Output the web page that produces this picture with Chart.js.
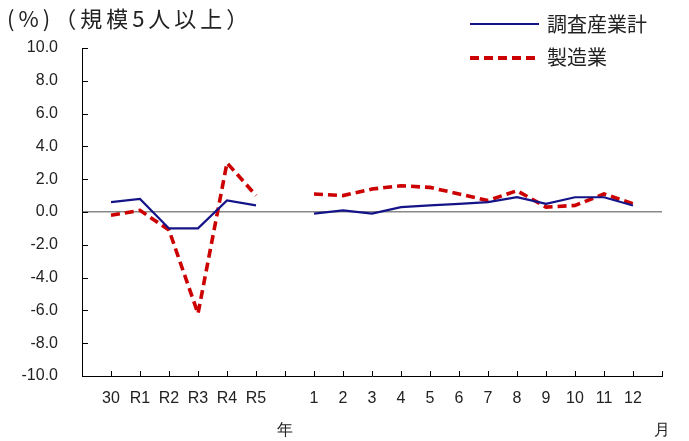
<!DOCTYPE html>
<html>
<head>
<meta charset="utf-8">
<script src="https://cdn.jsdelivr.net/npm/chart.js@4/dist/chart.umd.min.js"></script>
<style>
  html, body { margin: 0; padding: 0; background: #fff; }
  #wrap { position: relative; width: 689px; height: 441px; overflow: hidden; }
  #c { position: absolute; left: 0; top: 0; }
  .txt { position: absolute; font-family: "Noto Sans CJK JP", sans-serif; color: #222; white-space: nowrap; line-height: 1; }
  .key { position: absolute; }
</style>
</head>
<body>
<div id="wrap">
  <canvas id="c" width="689" height="441"></canvas>
  <div class="txt" style="left:7px; top:6px; font-size:22px; letter-spacing:4px;">(%)（規模5人以上）</div>
  <svg class="key" style="left:468px; top:14px;" width="74" height="54">
    <line x1="2" y1="10" x2="71" y2="10" stroke="#141488" stroke-width="2.2"/>
    <line x1="2" y1="44" x2="71" y2="44" stroke="#cc0000" stroke-width="4" stroke-dasharray="9,5"/>
  </svg>
  <div class="txt" style="left:547px; top:14px; font-size:20px;">調査産業計</div>
  <div class="txt" style="left:547px; top:47px; font-size:20px;">製造業</div>
</div>
<script>
// annual (fiscal year) and monthly periods
const yearLabels = ['30', 'R1', 'R2', 'R3', 'R4', 'R5'];
const monthLabels = ['1', '2', '3', '4', '5', '6', '7', '8', '9', '10', '11', '12'];
const yearUnit = '年';
const monthUnit = '月';

// 調査産業計 (all industries surveyed), %
const allYear = [0.6, 0.8, -1.0, -1.0, 0.7, 0.4];
const allMonth = [-0.1, 0.1, -0.1, 0.3, 0.4, 0.5, 0.6, 0.9, 0.5, 0.9, 0.9, 0.4];

// 製造業 (manufacturing), %
const mfgYear = [-0.2, 0.1, -1.1, -6.2, 3.0, 1.0];
const mfgMonth = [1.1, 1.0, 1.4, 1.6, 1.5, 1.1, 0.7, 1.3, 0.3, 0.4, 1.1, 0.5];

// y axis range
const yMin = -10, yMax = 10, yStep = 2;

// category axis: blank slot, years, unit slot, months, unit slot
const categories = [''].concat(yearLabels, [['', yearUnit]], monthLabels, [['', monthUnit]]);
const series = (yr, mo) => [null].concat(yr, [null], mo, [null]);

// short tick marks drawn inward from both axes
const innerTicks = {
  id: 'innerTicks',
  afterDraw(chart) {
    const { ctx, scales: { x, y }, chartArea } = chart;
    ctx.save();
    ctx.strokeStyle = '#000';
    ctx.lineWidth = 1;
    ctx.beginPath();
    categories.forEach((_, i) => {
      const px = Math.round(x.getPixelForValue(i)) + 0.5;
      ctx.moveTo(px, chartArea.bottom);
      ctx.lineTo(px, chartArea.bottom - 5);
    });
    y.ticks.forEach(t => {
      const py = Math.round(y.getPixelForValue(t.value)) + 0.5;
      ctx.moveTo(chartArea.left, py);
      ctx.lineTo(chartArea.left + 6, py);
    });
    ctx.stroke();
    ctx.restore();
  }
};

new Chart(document.getElementById('c'), {
  type: 'line',
  data: {
    labels: categories,
    datasets: [
      {
        label: '調査産業計',
        data: series(allYear, allMonth),
        borderColor: '#141488',
        borderWidth: 2.2,
        pointRadius: 0,
        tension: 0,
        spanGaps: false
      },
      {
        label: '製造業',
        data: series(mfgYear, mfgMonth),
        borderColor: '#cc0000',
        borderWidth: 3.6,
        borderDash: [9, 5],
        pointRadius: 0,
        tension: 0,
        spanGaps: false
      }
    ]
  },
  options: {
    responsive: false,
    animation: false,
    layout: { padding: { top: 48, right: 27, left: 0, bottom: 0 } },
    plugins: { legend: { display: false }, tooltip: { enabled: false } },
    scales: {
      x: {
        offset: false,
        grid: { display: false, drawTicks: false },
        border: { display: true, color: '#000', width: 1 },
        ticks: {
          autoSkip: false,
          maxRotation: 0,
          padding: 7,
          color: '#222',
          font: { family: 'Liberation Sans', size: 16, lineHeight: 2 }
        },
        afterFit(s) { s.height = 65; }
      },
      y: {
        min: yMin,
        max: yMax,
        grid: {
          drawTicks: false,
          color: c => (c.tick && c.tick.value === 0 ? '#888' : 'rgba(0,0,0,0)'),
          lineWidth: c => (c.tick && c.tick.value === 0 ? 1.5 : 0)
        },
        border: { display: true, color: '#000', width: 1 },
        ticks: {
          stepSize: yStep,
          padding: 24,
          color: '#222',
          font: { family: 'Liberation Sans', size: 16 },
          callback: v => Number(v).toFixed(1)
        },
        afterFit(s) { s.width = 82; }
      }
    }
  },
  plugins: [innerTicks]
});
</script>
</body>
</html>
